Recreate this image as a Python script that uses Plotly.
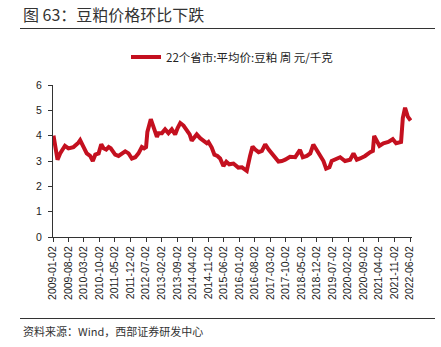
import plotly.graph_objects as go

dates = [
    "2009-01-09", "2009-03-05", "2009-04-10", "2009-06-15", "2009-08-02", "2009-10-10",
    "2009-12-17", "2010-01-10", "2010-02-26", "2010-04-10", "2010-05-26", "2010-07-02",
    "2010-08-05", "2010-09-20", "2010-10-26", "2010-11-26", "2011-01-02", "2011-02-05",
    "2011-03-05", "2011-05-05", "2011-06-20", "2011-08-05", "2011-09-20", "2011-11-05",
    "2011-12-20", "2012-02-05", "2012-03-20", "2012-05-05", "2012-06-05", "2012-07-02",
    "2012-07-20", "2012-09-05", "2012-10-10", "2012-11-28", "2012-12-20", "2013-02-05",
    "2013-03-20", "2013-05-05", "2013-06-20", "2013-08-05", "2013-09-08", "2013-10-14",
    "2013-11-28", "2014-01-14", "2014-02-20", "2014-03-20", "2014-04-23", "2014-05-28",
    "2014-07-14", "2014-08-28", "2014-10-14", "2014-11-05", "2014-12-20", "2015-01-26",
    "2015-03-08", "2015-04-14", "2015-05-29", "2015-07-08", "2015-08-17", "2015-10-14",
    "2015-12-20", "2016-02-08", "2016-04-14", "2016-05-29", "2016-07-02", "2016-08-08",
    "2016-09-23", "2016-11-08", "2016-12-23", "2017-02-08", "2017-03-23", "2017-05-08",
    "2017-06-23", "2017-08-08", "2017-09-23", "2017-11-28", "2018-02-08", "2018-04-14",
    "2018-05-23", "2018-07-17", "2018-09-02", "2018-10-14", "2018-12-02", "2019-01-17",
    "2019-03-02", "2019-04-08", "2019-05-23", "2019-06-23", "2019-08-08", "2019-10-17",
    "2019-12-23", "2020-03-02", "2020-04-17", "2020-06-02", "2020-07-17", "2020-09-23",
    "2020-12-02", "2021-01-08", "2021-01-26", "2021-03-02", "2021-04-08", "2021-06-02",
    "2021-08-08", "2021-10-08", "2021-11-23", "2022-01-30", "2022-02-23", "2022-03-26",
    "2022-05-02", "2022-06-10",
]
prices = [
    4.00, 3.05, 3.30, 3.60, 3.50, 3.55,
    3.72, 3.82, 3.55, 3.30, 3.20, 3.00,
    3.25, 3.30, 3.66, 3.50, 3.45, 3.55,
    3.50, 3.25, 3.20, 3.30, 3.38, 3.30,
    3.10, 3.15, 3.30, 3.55, 3.50, 3.55,
    4.15, 4.65, 4.30, 3.95, 4.10, 4.10,
    4.25, 4.10, 4.25, 4.05, 4.30, 4.50,
    4.40, 4.20, 4.05, 3.80, 3.90, 4.05,
    3.90, 3.80, 3.70, 3.75, 3.53, 3.25,
    3.20, 3.10, 2.80, 2.97, 2.87, 2.90,
    2.74, 2.75, 2.61, 3.20, 3.57, 3.45,
    3.35, 3.40, 3.66, 3.45, 3.30, 3.20,
    2.98, 3.00, 3.05, 3.17, 3.15, 3.44,
    3.15, 3.20, 3.30, 3.65, 3.40, 3.15,
    3.00, 2.70, 2.75, 3.00, 3.05, 3.15,
    3.00, 3.05, 3.30, 3.05, 3.10, 3.20,
    3.35, 3.40, 3.99, 3.80, 3.60, 3.70,
    3.75, 3.86, 3.70, 3.75, 4.70, 5.10,
    4.75, 4.60,
]
series_name = "22个省市:平均价:豆粕 周 元/千克"
title_text = "图 63：豆粕价格环比下跌"
source_text = "资料来源：Wind，西部证券研发中心"

FONT = "Liberation Sans, Arial, Noto Sans CJK SC, sans-serif"
CJK = "Noto Sans CJK SC, Liberation Sans, sans-serif"

L, R, T, B = 53, 29, 85, 110
W, H = 441 - L - R, 347 - T - B

def px(x):
    return (x - L) / W

def py(y):
    return (347 - B - y) / H

fig = go.Figure()
fig.add_trace(go.Scatter(
    x=dates, y=prices, mode="lines", name=series_name,
    line=dict(color="#C4101F", width=4),
))

fig.update_layout(
    width=441, height=347,
    margin=dict(l=L, r=R, t=T, b=B),
    paper_bgcolor="white", plot_bgcolor="white",
    font=dict(family=FONT, size=10, color="#222"),
    showlegend=True,
    legend=dict(
        orientation="h", x=0.5, xanchor="center", y=py(57), yanchor="middle",
        font=dict(family=CJK, size=11.5, color="#222"), itemwidth=30,
        bgcolor="rgba(0,0,0,0)",
    ),
    xaxis=dict(
        type="date", range=["2009-01-02", "2022-06-29"],
        tick0="2009-01-02", dtick="M7", tickformat="%Y-%m-%d",
        tickangle=-90, ticks="outside", ticklen=4, tickcolor="#333",
        showline=True, linecolor="#333", linewidth=1, showgrid=False,
        tickfont=dict(size=10.5, color="#222"), zeroline=False,
    ),
    yaxis=dict(
        range=[0, 6], dtick=1, ticks="outside", ticklen=4, tickcolor="#333",
        showline=True, linecolor="#333", linewidth=1, showgrid=False,
        tickfont=dict(size=10.5, color="#222"), zeroline=False,
        ticklabelstandoff=4,
    ),
    annotations=[
        dict(text=title_text, xref="paper", yref="paper", x=px(21), y=py(14),
             xanchor="left", yanchor="middle", showarrow=False,
             font=dict(family=CJK, size=16, color="#333")),
        dict(text=source_text, xref="paper", yref="paper", x=px(21), y=py(331),
             xanchor="left", yanchor="middle", showarrow=False,
             font=dict(family=CJK, size=11, color="#333")),
    ],
    shapes=[
        dict(type="line", xref="paper", yref="paper", x0=px(20), x1=px(435),
             y0=py(28.5), y1=py(28.5), line=dict(color="#333", width=1)),
        dict(type="line", xref="paper", yref="paper", x0=px(20), x1=px(435),
             y0=py(318.5), y1=py(318.5), line=dict(color="#333", width=1)),
    ],
)

fig.write_html("out.html")
